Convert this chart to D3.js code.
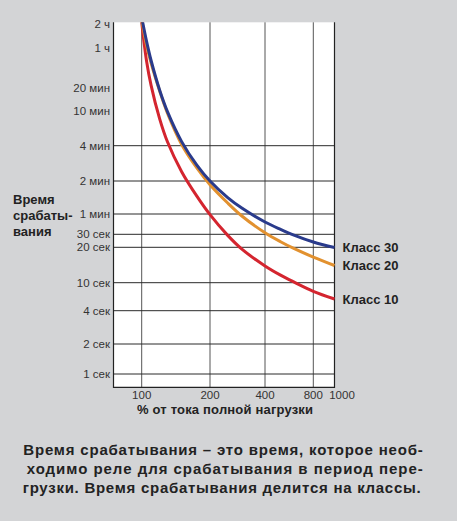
<!DOCTYPE html>
<html>
<head>
<meta charset="utf-8">
<script src="https://cdn.jsdelivr.net/npm/d3@7"></script>
<style>
  html, body { margin: 0; padding: 0; background: #d3d4d6; }
  svg { display: block; font-family: "Liberation Sans", Arial, sans-serif; }
</style>
</head>
<body>
<svg id="chart" width="457" height="521"></svg>
<script>
// Data: % of full-load current -> trip time, seconds
const loadPct = [100, 105, 110, 120, 130, 150, 175, 200, 250, 300, 400, 500, 600, 800, 1000];
const class10 = [7700, 2560, 1303, 485, 264, 144, 87.2, 58.6, 29.0, 19.2, 13.9, 11.6, 10.2, 7.55, 5.87];
const class20 = [8150, 3960, 2397, 1104, 558, 248, 155, 111, 75.6, 55.6, 31.6, 23.8, 19.65, 16.5, 14.0];
const class30 = [8800, 4430, 2575, 1131, 582, 267, 164, 120, 84.7, 67.6, 45.7, 35.5, 29.5, 23.6, 19.9];

const xTickValues = [100, 200, 400, 800, 1000];
const xGridValues = [100, 200, 400, 800];
const yTickValues = [1, 2, 4, 10, 20, 30, 60, 120, 240, 600, 1200, 3600, 7200];
const yTickLabels = ["1 сек", "2 сек", "4 сек", "10 сек", "20 сек", "30 сек", "1 мин", "2 мин", "4 мин", "10 мин", "20 мин", "1 ч", "2 ч"];
const yGridValues = [1, 2, 4, 10, 20, 30, 60, 120, 240];

const seriesNames = ["Класс 30", "Класс 20", "Класс 10"];
const caption = [
  "Время срабатывания – это время, которое необ-",
  "ходимо реле для срабатывания в период пере-",
  "грузки. Время срабатывания делится на классы."
];

const svg = d3.select("#chart");

// Plot box
const plot = { left: 113.5, right: 334.5, top: 22.3, bottom: 387.3 };

// The printed axes are not evenly logarithmic, so use piecewise log scales
const x = d3.scaleLog()
  .domain(xTickValues)
  .range([141.7, 210, 265, 313.3, plot.right]);

const y = d3.scaleLog()
  .domain(yTickValues)
  .range([374, 344, 310.7, 282.7, 247.3, 234.3, 214, 181, 145.7, 110.7, 88.3, 48.3, 24.3]);

// White plot background
svg.append("rect")
  .attr("x", plot.left)
  .attr("y", plot.top)
  .attr("width", plot.right - plot.left)
  .attr("height", plot.bottom - plot.top)
  .attr("fill", "#fff");

// Grid
svg.append("g")
  .selectAll("line")
  .data(xGridValues)
  .enter()
  .append("line")
  .attr("x1", (d) => x(d))
  .attr("x2", (d) => x(d))
  .attr("y1", plot.top)
  .attr("y2", plot.bottom)
  .attr("stroke", "#555")
  .attr("stroke-width", 1);

svg.append("g")
  .selectAll("line")
  .data(yGridValues)
  .enter()
  .append("line")
  .attr("x1", plot.left)
  .attr("x2", plot.right)
  .attr("y1", (d) => y(d))
  .attr("y2", (d) => y(d))
  .attr("stroke", "#2a2a2a")
  .attr("stroke-width", 1);

// Frame: left, bottom, right
svg.append("path")
  .attr("d", `M${plot.left},${plot.top}V${plot.bottom}H${plot.right}V${plot.top}`)
  .attr("fill", "none")
  .attr("stroke", "#222")
  .attr("stroke-width", 1.2);

// Y tick labels
svg.append("g")
  .selectAll("text")
  .data(yTickValues)
  .enter()
  .append("text")
  .attr("x", 110)
  .attr("y", (d) => y(d))
  .attr("dy", "0.36em")
  .attr("text-anchor", "end")
  .attr("font-size", 11.5)
  .attr("fill", "#333")
  .text((d, i) => yTickLabels[i]);

// X tick labels (1000 is pushed right of the frame in the original)
svg.append("g")
  .selectAll("text")
  .data(xTickValues)
  .enter()
  .append("text")
  .attr("x", (d) => (d === 1000 ? x(d) + 7.5 : x(d)))
  .attr("y", 399)
  .attr("text-anchor", "middle")
  .attr("font-size", 11.5)
  .attr("fill", "#333")
  .text((d) => d);

// Axis titles
svg.append("text")
  .attr("x", 225)
  .attr("y", 414)
  .attr("text-anchor", "middle")
  .attr("font-size", 13)
  .attr("font-weight", "bold")
  .attr("fill", "#222")
  .attr("textLength", 176)
  .attr("lengthAdjust", "spacing")
  .text("% от тока полной нагрузки");

svg.append("text")
  .attr("x", 13)
  .attr("y", 204)
  .attr("font-size", 13)
  .attr("font-weight", "bold")
  .attr("fill", "#222")
  .selectAll("tspan")
  .data(["Время", "срабаты-", "вания"])
  .enter()
  .append("tspan")
  .attr("x", 13)
  .attr("dy", (d, i) => (i === 0 ? 0 : 16))
  .text((d) => d);

// Curves
svg.append("clipPath")
  .attr("id", "clip")
  .append("rect")
  .attr("x", plot.left)
  .attr("y", plot.top)
  .attr("width", plot.right - plot.left + 2)
  .attr("height", plot.bottom - plot.top);

const series = [
  { name: seriesNames[0], values: class30, color: "#2a3b8c" },
  { name: seriesNames[1], values: class20, color: "#e2912f" },
  { name: seriesNames[2], values: class10, color: "#d4252f" }
];

const line = d3
  .line()
  .x((d) => x(d.pct))
  .y((d) => y(d.sec))
  .curve(d3.curveCatmullRom.alpha(0.5));

const curves = svg.append("g").attr("clip-path", "url(#clip)");

// draw Class 10 first so Class 30 sits on top, as in the picture
series.slice().reverse().forEach((s) => {
  const pts = loadPct.map((p, i) => ({ pct: p, sec: s.values[i] }));
  curves.append("path")
    .datum(pts)
    .attr("fill", "none")
    .attr("stroke", s.color)
    .attr("stroke-width", 3)
    .attr("d", line);
});

// Series labels at the curve ends
svg.append("g")
  .selectAll("text")
  .data(series)
  .enter()
  .append("text")
  .attr("x", plot.right + 8)
  .attr("y", (d) => y(d.values[d.values.length - 1]))
  .attr("dy", "0.36em")
  .attr("font-size", 13)
  .attr("font-weight", "bold")
  .attr("fill", "#222")
  .text((d) => d.name);

// Caption, justified like the printed block
const captionStart = [23.3, 26.7, 22.7];
const captionEnd = [422.7, 422.7, 420.7];
svg.append("g")
  .selectAll("text")
  .data(caption)
  .enter()
  .append("text")
  .attr("x", (d, i) => captionStart[i])
  .attr("y", (d, i) => 455 + i * 19)
  .attr("font-size", 15)
  .attr("font-weight", "bold")
  .attr("fill", "#222")
  .attr("textLength", (d, i) => captionEnd[i] - captionStart[i])
  .attr("lengthAdjust", "spacing")
  .text((d) => d);
</script>
</body>
</html>
